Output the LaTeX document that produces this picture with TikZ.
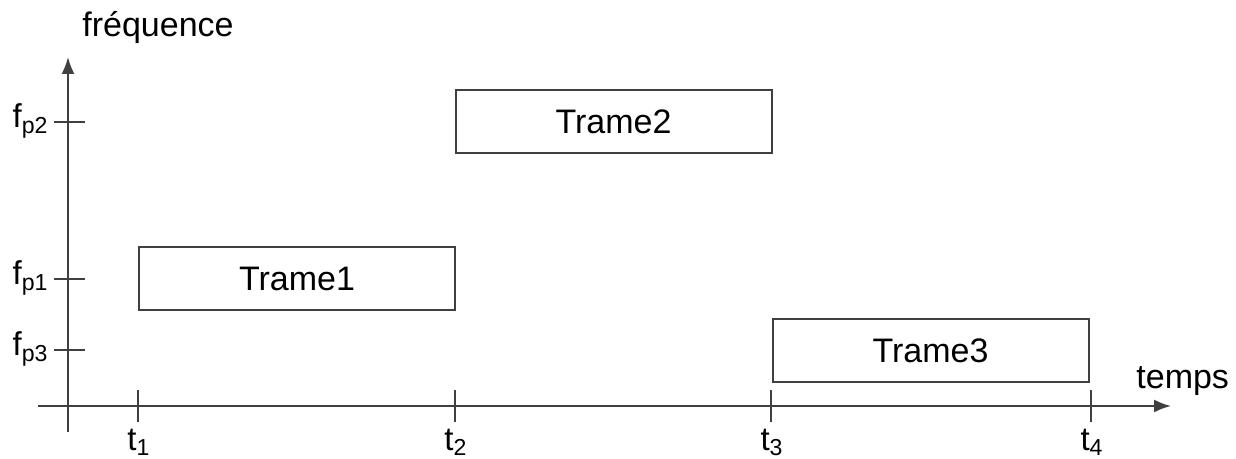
\documentclass[tikz,border=0pt]{standalone}
\usepackage{fontspec}
\setmainfont{Liberation Sans}
\usetikzlibrary{arrows.meta}
\begin{document}
\begin{tikzpicture}[x=0.5pt,y=-0.5pt,
  ax/.style={draw=black!75,line width=1pt},
  tk/.style={draw=black!75,line width=0.9pt},
  frame/.style={draw=black!75,line width=1pt,minimum width=158pt,minimum height=31.5pt,inner sep=0pt,font=\fontsize{17}{20}\selectfont},
  lbl/.style={inner sep=0pt,font=\fontsize{17}{20}\selectfont},
  tl/.style={inner sep=0pt,font=\fontsize{16.5}{20}\selectfont}]
\useasboundingbox (0,0) rectangle (1236,459);
% axes
\coordinate (yb) at (68,432);
\coordinate (yt) at (68,57);
\coordinate (xl) at (38,406);
\coordinate (xr) at (1171,406);
\draw[ax,-{Latex[length=8.5pt,width=6.5pt]}] (yb) -- (yt);
\draw[ax,-{Latex[length=8.5pt,width=6.5pt]}] (xl) -- (xr);
\node[lbl,anchor=base] (fq) at (158,37) {fréquence};
\node[lbl,anchor=base west] (tp) at (1136,388) {temps};
% y ticks
\foreach \n/\y/\s in {2/122/p2,1/279/p1,3/350/p3}{
  \coordinate (fa\n) at (54,\y);
  \coordinate (fb\n) at (85,\y);
  \draw[tk] (fa\n) -- (fb\n);
  \node[tl,anchor=base east] (fl\n) at (49,\y+6) {f\textsubscript{\s}};
}
% x ticks
\foreach \n/\x in {1/138,2/455,3/771,4/1091}{
  \coordinate (ta\n) at (\x,390);
  \coordinate (tb\n) at (\x,422);
  \draw[tk] (ta\n) -- (tb\n);
  \node[tl,anchor=base] (tl\n) at (\x+1,450) {t\textsubscript{\n}};
}
% frames
\node[frame] (T1) at (297,279) {Trame1};
\node[frame] (T2) at (613.5,121.5) {Trame2};
\node[frame] (T3) at (930.5,350.5) {Trame3};
\end{tikzpicture}
\end{document}
